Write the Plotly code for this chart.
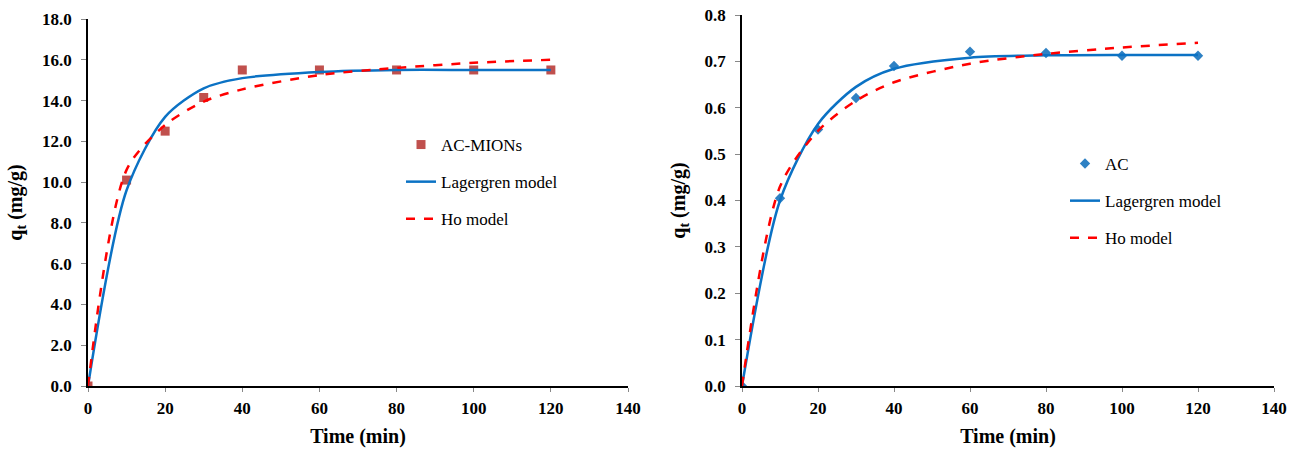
import plotly.graph_objects as go

# Contact time (min)
time_min = [0, 10, 20, 30, 40, 60, 80, 100, 120]

# AC-MIONs: measured uptake and kinetic fits (mg/g)
acmions_exp = [0.0, 10.1, 12.5, 14.15, 15.5, 15.5, 15.5, 15.5, 15.5]
acmions_lagergren = [0.0, 9.6, 13.2, 14.6, 15.1, 15.4, 15.5, 15.5, 15.5]
acmions_ho = [0.0, 10.6, 12.8, 13.95, 14.55, 15.25, 15.6, 15.85, 16.0]

# AC: measured uptake and kinetic fits (mg/g)
ac_exp = [0.0, 0.405, 0.553, 0.621, 0.69, 0.721, 0.718, 0.712, 0.712]
ac_lagergren = [0.0, 0.40, 0.565, 0.645, 0.684, 0.708, 0.713, 0.714, 0.714]
ac_ho = [0.0, 0.43, 0.55, 0.615, 0.655, 0.695, 0.716, 0.73, 0.74]

x_ticks = [0, 20, 40, 60, 80, 100, 120, 140]

FONT = "Liberation Serif"
RED_MARK = "#C0504D"
BLUE_MARK = "#2E81C4"
BLUE_LINE = "#0B72C4"
RED_LINE = "#FF0000"

fig = go.Figure()

def add_panel(xa, ya, legend, name, values, lag, ho, symbol, color, size):
    fig.add_trace(go.Scatter(
        x=time_min, y=values, mode="markers", name=name,
        marker=dict(symbol=symbol, size=size, color=color),
        xaxis=xa, yaxis=ya, legend=legend, legendgroup=legend + "a"))
    fig.add_trace(go.Scatter(
        x=time_min, y=lag, mode="lines", name="Lagergren model",
        line=dict(color=BLUE_LINE, width=2.5, shape="spline", smoothing=0.8),
        xaxis=xa, yaxis=ya, legend=legend, legendgroup=legend + "b"))
    fig.add_trace(go.Scatter(
        x=time_min, y=ho, mode="lines", name="Ho model",
        line=dict(color=RED_LINE, width=2.5, dash="dash", shape="spline", smoothing=0.8),
        xaxis=xa, yaxis=ya, legend=legend, legendgroup=legend + "c"))

add_panel("x", "y", "legend", "AC-MIONs", acmions_exp, acmions_lagergren, acmions_ho,
          "square", RED_MARK, 9)
add_panel("x2", "y2", "legend2", "AC", ac_exp, ac_lagergren, ac_ho,
          "diamond", BLUE_MARK, 8)

tick_font = dict(family=FONT, size=17, color="black", weight="bold")
title_font = dict(family=FONT, size=20, color="black", weight="bold")

xaxis_common = dict(
    range=[0, 140], tickvals=x_ticks, showgrid=False, zeroline=False,
    showline=True, linecolor="black", linewidth=1.5,
    ticks="outside", ticklen=4, tickcolor="#888888",
    tickfont=tick_font, automargin=False, ticklabelstandoff=2,
    title=dict(text="Time (min)", font=title_font, standoff=12),
)
yaxis_common = dict(
    showgrid=False, zeroline=False, showline=True, linecolor="black", linewidth=1.5,
    ticks="outside", ticklen=5, tickcolor="#888888", tickformat=".1f",
    tickfont=tick_font, automargin=False, ticklabelstandoff=6,
    title=dict(text="q<sub>t</sub> (mg/g)", font=title_font, standoff=14),
)

legend_common = dict(
    font=dict(family=FONT, size=17, color="black"),
    bgcolor="rgba(0,0,0,0)", traceorder="grouped", tracegroupgap=12,
    xanchor="left", yanchor="top", itemwidth=30,
)

fig.update_layout(
    width=1299, height=450,
    margin=dict(l=0, r=0, t=0, b=0),
    paper_bgcolor="white", plot_bgcolor="white",
    showlegend=True,
    xaxis=dict(domain=[88 / 1299, 628 / 1299], anchor="y", **xaxis_common),
    yaxis=dict(domain=[1 - 386 / 450, 1 - 19 / 450], anchor="x",
               range=[0, 18], dtick=2, **yaxis_common),
    xaxis2=dict(domain=[742 / 1299, 1274 / 1299], anchor="y2", **xaxis_common),
    yaxis2=dict(domain=[1 - 386 / 450, 1 - 15 / 450], anchor="x2",
                range=[0, 0.8], dtick=0.1, **yaxis_common),
    legend=dict(x=401 / 1299, y=1 - 127 / 450, **legend_common),
    legend2=dict(x=1065 / 1299, y=1 - 146 / 450, **legend_common),
)

fig.write_html("out.html")
